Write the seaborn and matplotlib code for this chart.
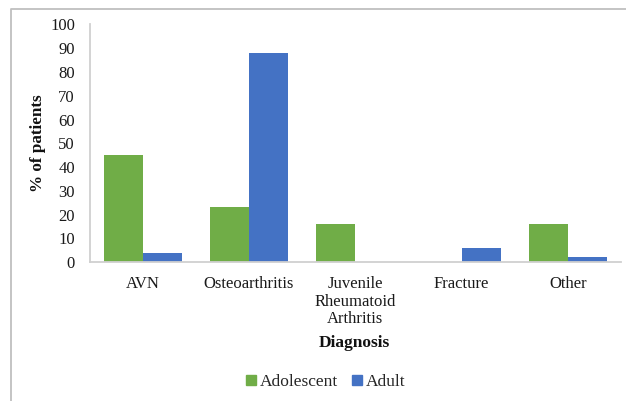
import matplotlib
matplotlib.use("Agg")
import matplotlib.pyplot as plt
from matplotlib.lines import Line2D
import seaborn as sns
import pandas as pd

# Percentage of patients per diagnosis, by age group
diagnoses = ["AVN", "Osteoarthritis", "Juvenile\nRheumatoid\nArthritis", "Fracture", "Other"]
adolescent = [45, 23, 16, 0, 16]
adult = [4, 88, 0, 6, 2]
groups = ["Adolescent", "Adult"]
colors = ["#70AD47", "#4472C4"]

df = pd.DataFrame({
    "Diagnosis": diagnoses * 2,
    "Percent": adolescent + adult,
    "Group": [groups[0]] * len(diagnoses) + [groups[1]] * len(diagnoses),
})

sns.set_style("white")
plt.rcParams["font.family"] = ["Liberation Serif", "DejaVu Serif"]

W, H = 626, 401
fig = plt.figure(figsize=(W / 100, H / 100), dpi=100)
ax = fig.add_axes([89.5 / W, 1 - 262 / H, (621 - 89.5) / W, (262 - 24.5) / H])

sns.barplot(data=df, x="Diagnosis", y="Percent", hue="Group", order=diagnoses,
            hue_order=groups, palette=colors, width=0.734, saturation=1,
            edgecolor="none", linewidth=0, ax=ax, legend=False)

ax.set_ylim(0, 100)
ax.set_yticks(range(0, 101, 10))
ax.set_xlim(-0.5, len(diagnoses) - 0.5)
ax.set_xlabel("")
ax.set_ylabel("")
ax.tick_params(axis="y", length=0, pad=10.5, labelsize=12, colors="#1a1a1a")
ax.tick_params(axis="x", length=0, pad=10, labelsize=12, colors="#1a1a1a")
for lbl in ax.get_xticklabels():
    lbl.set_multialignment("center")
    lbl.set_linespacing(1.15)

for side in ["top", "right"]:
    ax.spines[side].set_visible(False)
for side in ["left", "bottom"]:
    ax.spines[side].set_color("#D0D0D0")
    ax.spines[side].set_linewidth(1.3)

fig.text(37.5 / W, 1 - 143 / H, "% of patients", rotation=90, ha="center",
         va="center", fontsize=12.3, fontweight="bold", color="#111111")
fig.text(354.5 / W, 1 - 343 / H, "Diagnosis", ha="center", va="center",
         fontsize=12.5, fontweight="bold", color="#111111")

handles = [Line2D([0], [0], marker="s", linestyle="none", markersize=6.5,
                  markerfacecolor=c, markeredgecolor=c) for c in colors]
fig.legend(handles, groups, loc="center", bbox_to_anchor=(325.5 / W, 1 - 382 / H),
           ncol=2, frameon=False, fontsize=12.5, handletextpad=0.25,
           columnspacing=0.75, borderpad=0, handlelength=0.6)

# outer frame (left and top edges)
fig.add_artist(Line2D([10.5 / W, 10.5 / W, 1.0], [0.0, 1 - 8.5 / H, 1 - 8.5 / H],
                      transform=fig.transFigure, color="#BFBFBF", linewidth=1.3))

fig.savefig("out.png", dpi=100)
